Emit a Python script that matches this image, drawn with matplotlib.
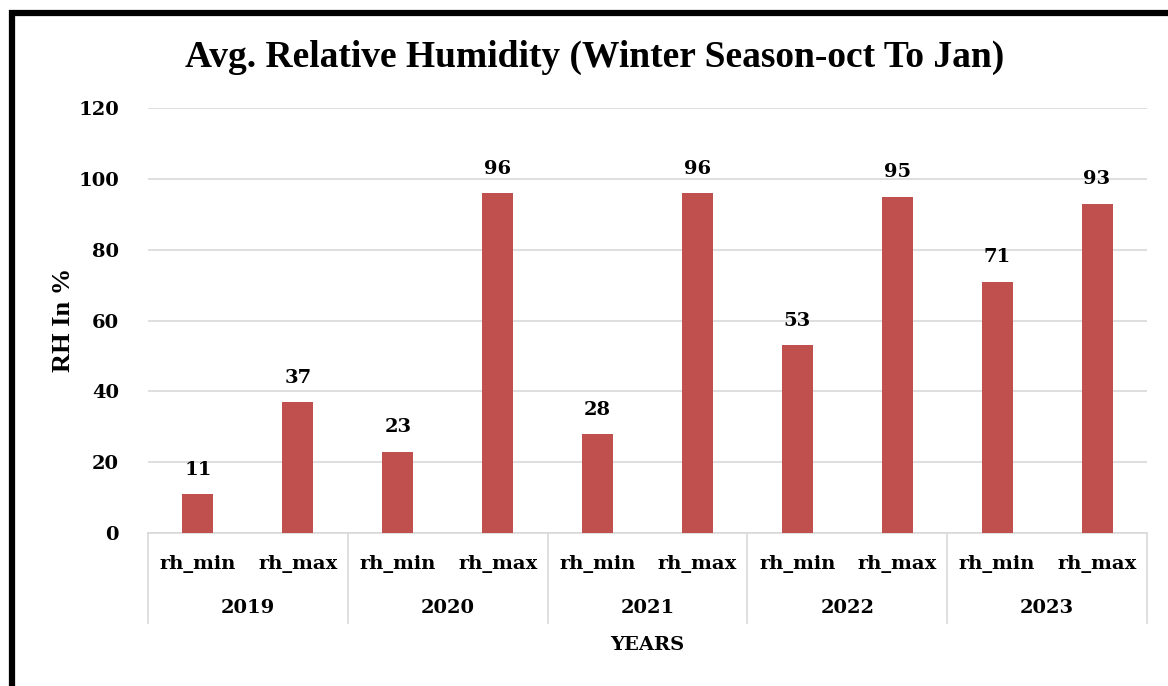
import matplotlib
matplotlib.use("Agg")
import matplotlib.pyplot as plt
from matplotlib.patches import Rectangle
from matplotlib.transforms import blended_transform_factory

# data
years = ["2019", "2020", "2021", "2022", "2023"]
series = ["rh_min", "rh_max"]
rh_min = [11, 23, 28, 53, 71]
rh_max = [37, 96, 96, 95, 93]
y_ticks = [0, 20, 40, 60, 80, 100, 120]

bar_color = "#C0504D"
grid_color = "#D9D9D9"
tick_font = "DejaVu Serif"
title_font = "Liberation Serif"

fig = plt.figure(figsize=(11.68, 6.86), dpi=100)
ax = fig.add_axes([148 / 1168, 1 - 533 / 686, (1147 - 148) / 1168, (533 - 108) / 686])

# interleave min/max per year
values = []
labels = []
for i in range(len(years)):
    values += [rh_min[i], rh_max[i]]
    labels += series
xs = list(range(len(values)))

bars = ax.bar(xs, values, width=0.31, color=bar_color, zorder=3)
for b, v in zip(bars, values):
    ax.annotate(str(v), (b.get_x() + b.get_width() / 2, v), xytext=(0, 11),
                textcoords="offset points", ha="center", va="bottom",
                fontsize=14, fontweight="bold", family=tick_font)

ax.set_xlim(-0.5, len(values) - 0.5)
ax.set_ylim(0, 120)
ax.set_yticks(y_ticks)
ax.set_yticklabels([str(t) for t in y_ticks], fontsize=14, fontweight="bold", family=tick_font)
ax.tick_params(axis="y", length=0, pad=21)
ax.set_xticks([])
ax.yaxis.grid(True, color=grid_color, linewidth=1.2, zorder=0)
for s in ["top", "right", "left"]:
    ax.spines[s].set_visible(False)
ax.spines["bottom"].set_color(grid_color)
ax.spines["bottom"].set_linewidth(1.2)

# two-level category axis
tr = blended_transform_factory(ax.transData, ax.transAxes)
for x, lab in zip(xs, labels):
    ax.text(x, -0.073, lab, transform=tr, ha="center", va="center",
            fontsize=14, fontweight="bold", family=tick_font)
for i, yr in enumerate(years):
    ax.text(2 * i + 0.5, -0.176, yr, transform=tr, ha="center", va="center",
            fontsize=14, fontweight="bold", family=tick_font)
for i in range(len(years) + 1):
    ax.plot([2 * i - 0.5, 2 * i - 0.5], [0, -0.212], transform=tr, color=grid_color,
            linewidth=1.2, clip_on=False)

ax.text(0.5, -0.264, "YEARS", transform=ax.transAxes, ha="center", va="center",
        fontsize=14, fontweight="bold", family=tick_font)
fig.text(63 / 1168, 1 - 320 / 686, "RH In %", rotation=90, ha="center", va="center",
         fontsize=19, fontweight="bold", family=title_font)
fig.text(595 / 1168, 1 - 57 / 686, "Avg. Relative Humidity (Winter Season-oct To Jan)",
         ha="center", va="center", fontsize=27, fontweight="bold", family=title_font)

# black frame (cut off on the right and bottom)
fig.patches.append(Rectangle((12 / 1168, -0.1), 1.2, 1 - 13 / 686 + 0.1,
                             transform=fig.transFigure, fill=False,
                             edgecolor="black", linewidth=4.5))

fig.savefig("out.png", dpi=100)
